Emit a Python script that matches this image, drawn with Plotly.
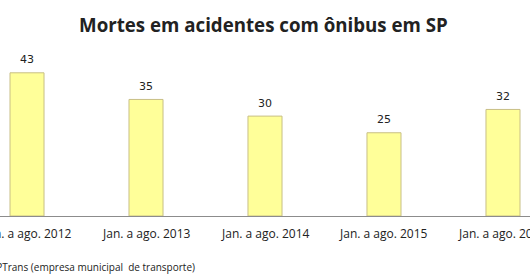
import plotly.graph_objects as go

categories = ["Jan. a ago. 2012", "Jan. a ago. 2013", "Jan. a ago. 2014", "Jan. a ago. 2015", "Jan. a ago. 2016"]
deaths = [43, 35, 30, 25, 32]
title = "Mortes em acidentes com ônibus em SP"
source = "Fonte: SPTrans (empresa municipal  de transporte)"

W, H = 530, 275
top, bottom = 50, 59
plot_h = H - top - bottom

fig = go.Figure(go.Bar(
    x=list(range(len(categories))),
    y=deaths,
    width=0.286,
    marker=dict(color="#FFFF99", line=dict(color="#C8BF86", width=1)),
    cliponaxis=False,
))

annotations = []
for i, v in enumerate(deaths):
    annotations.append(dict(text=str(v), x=i, y=v, xref="x", yref="y", xanchor="center",
                            yanchor="middle", yshift=13, showarrow=False,
                            font=dict(family="DejaVu Sans", size=11, color="#222222")))
for i, c in enumerate(categories):
    annotations.append(dict(text=c, x=i, y=-17 / plot_h, xref="x", yref="paper", xanchor="center",
                            yanchor="middle", showarrow=False,
                            font=dict(family="Open Sans", size=12, color="#222222")))
annotations.append(dict(text=source, xref="paper", yref="paper", x=197 / W, xanchor="right",
                        y=-(267 - (H - bottom)) / plot_h, yanchor="middle",
                        showarrow=False, font=dict(family="Open Sans", size=10, color="#222222")))

fig.update_layout(
    width=W, height=H,
    margin=dict(l=0, r=0, t=top, b=bottom),
    paper_bgcolor="white", plot_bgcolor="white",
    showlegend=False,
    title=dict(text="<b>" + title + "</b>", x=0.497, xanchor="center", y=1 - 25 / H, yanchor="middle",
               font=dict(family="Open Sans", size=18.7, color="#222222")),
    xaxis=dict(range=[-0.227, 4.227], showticklabels=False, showgrid=False, zeroline=False,
               showline=True, linecolor="#8C8C8C", linewidth=1, ticks=""),
    yaxis=dict(range=[0, plot_h / 3.33], visible=False, showgrid=False, zeroline=False),
    annotations=annotations,
)

fig.write_html("out.html")
